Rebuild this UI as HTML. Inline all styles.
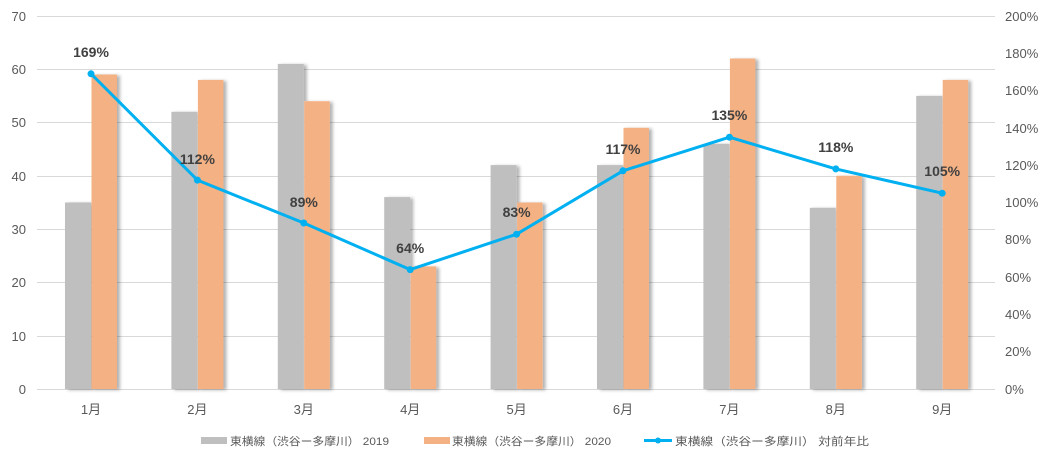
<!DOCTYPE html>
<html><head><meta charset="utf-8"><style>
body{margin:0;background:#fff}
text{font-family:"Liberation Sans","Noto Sans CJK JP",sans-serif}
</style></head><body>
<svg width="1050" height="461" xmlns="http://www.w3.org/2000/svg">
<defs><filter id="sh" x="-20%" y="-5%" width="150%" height="110%"><feDropShadow dx="3" dy="1" stdDeviation="1.5" flood-color="#000" flood-opacity="0.3"/></filter></defs>
<g stroke="#d9d9d9" stroke-width="1">
<line x1="37" x2="995" y1="16.5" y2="16.5"/><line x1="37" x2="995" y1="69.5" y2="69.5"/><line x1="37" x2="995" y1="122.5" y2="122.5"/><line x1="37" x2="995" y1="176.5" y2="176.5"/><line x1="37" x2="995" y1="229.5" y2="229.5"/><line x1="37" x2="995" y1="282.5" y2="282.5"/><line x1="37" x2="995" y1="336.5" y2="336.5"/><line x1="37" x2="995" y1="389.5" y2="389.5"/>
</g>
<g font-size="13" fill="#595959" text-anchor="end">
<text x="26" y="21">70</text><text x="26" y="74">60</text><text x="26" y="127">50</text><text x="26" y="181">40</text><text x="26" y="234">30</text><text x="26" y="287">20</text><text x="26" y="341">10</text><text x="26" y="394">0</text>
</g>
<g font-size="13" fill="#595959">
<text x="1005" y="21">200%</text><text x="1005" y="58">180%</text><text x="1005" y="95">160%</text><text x="1005" y="133">140%</text><text x="1005" y="170">120%</text><text x="1005" y="207">100%</text><text x="1005" y="244">80%</text><text x="1005" y="282">60%</text><text x="1005" y="319">40%</text><text x="1005" y="356">20%</text><text x="1005" y="394">0%</text>
</g>
<g filter="url(#sh)">
<rect x="65" y="202.5" width="26" height="186.5" fill="#bfbfbf"/><rect x="91.5" y="74.5" width="25.5" height="314.5" fill="#f4b183"/>
<rect x="171.4" y="111.8" width="26" height="277.2" fill="#bfbfbf"/><rect x="197.9" y="79.9" width="25.5" height="309.1" fill="#f4b183"/>
<rect x="277.8" y="63.9" width="26" height="325.1" fill="#bfbfbf"/><rect x="304.3" y="101.2" width="25.5" height="287.8" fill="#f4b183"/>
<rect x="384.2" y="197.1" width="26" height="191.9" fill="#bfbfbf"/><rect x="410.7" y="266.4" width="25.5" height="122.6" fill="#f4b183"/>
<rect x="490.6" y="165.1" width="26" height="223.9" fill="#bfbfbf"/><rect x="517.1" y="202.5" width="25.5" height="186.5" fill="#f4b183"/>
<rect x="597" y="165.1" width="26" height="223.9" fill="#bfbfbf"/><rect x="623.5" y="127.8" width="25.5" height="261.2" fill="#f4b183"/>
<rect x="703.4" y="143.8" width="26" height="245.2" fill="#bfbfbf"/><rect x="729.9" y="58.5" width="25.5" height="330.5" fill="#f4b183"/>
<rect x="809.8" y="207.8" width="26" height="181.2" fill="#bfbfbf"/><rect x="836.3" y="175.8" width="25.5" height="213.2" fill="#f4b183"/>
<rect x="916.2" y="95.9" width="26" height="293.1" fill="#bfbfbf"/><rect x="942.7" y="79.9" width="25.5" height="309.1" fill="#f4b183"/>
</g>
<g font-size="13" fill="#595959" text-anchor="middle">
<text x="91" y="414">1月</text><text x="197.4" y="414">2月</text><text x="303.8" y="414">3月</text><text x="410.2" y="414">4月</text><text x="516.6" y="414">5月</text><text x="623" y="414">6月</text><text x="729.4" y="414">7月</text><text x="835.8" y="414">8月</text><text x="942.2" y="414">9月</text>
</g>
<polyline fill="none" stroke="#00b0f0" stroke-width="3" stroke-linejoin="round" points="91,73.8 197.4,180.1 303.8,223 410.2,269.6 516.6,234.2 623,170.8 729.4,137.2 835.8,168.9 942.2,193.2"/>
<g fill="#00b0f0">
<circle cx="91" cy="73.8" r="3.5"/><circle cx="197.4" cy="180.1" r="3.5"/><circle cx="303.8" cy="223" r="3.5"/><circle cx="410.2" cy="269.6" r="3.5"/><circle cx="516.6" cy="234.2" r="3.5"/><circle cx="623" cy="170.8" r="3.5"/><circle cx="729.4" cy="137.2" r="3.5"/><circle cx="835.8" cy="168.9" r="3.5"/><circle cx="942.2" cy="193.2" r="3.5"/>
</g>
<g font-size="14" font-weight="bold" fill="#404040" text-anchor="middle">
<text x="91" y="57">169%</text><text x="197.4" y="164">112%</text><text x="303.8" y="207">89%</text><text x="410.2" y="253">64%</text><text x="516.6" y="217">83%</text><text x="623" y="154">117%</text><text x="729.4" y="120">135%</text><text x="835.8" y="152">118%</text><text x="942.2" y="176">105%</text>
</g>
<g font-size="11" fill="#595959">
<rect x="201" y="437" width="26" height="7" fill="#bfbfbf"/><text x="230" y="445" textLength="159" lengthAdjust="spacingAndGlyphs">東横線（渋谷ー多摩川） 2019</text>
<rect x="424" y="437" width="26" height="7" fill="#f4b183"/><text x="452" y="445" textLength="159" lengthAdjust="spacingAndGlyphs">東横線（渋谷ー多摩川） 2020</text>
<line x1="644" x2="672" y1="440.5" y2="440.5" stroke="#00b0f0" stroke-width="3"/><circle cx="658" cy="440.5" r="3" fill="#00b0f0"/><text x="675" y="445" textLength="194" lengthAdjust="spacingAndGlyphs">東横線（渋谷ー多摩川） 対前年比</text>
</g>
</svg>
</body></html>
